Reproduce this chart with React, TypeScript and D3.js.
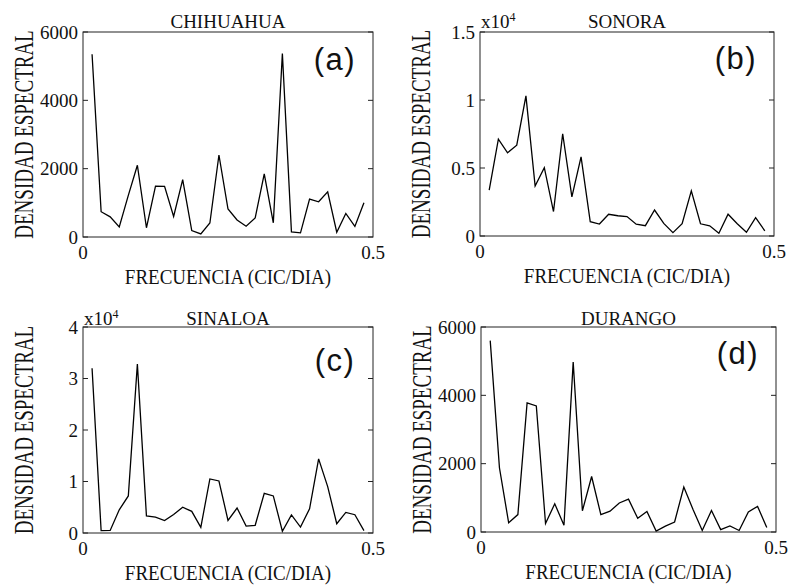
import React from "react";
import * as d3 from "d3";

// ---------- data ----------
const harmonics = d3.range(1, 32); // spectral estimates k = 1..31 of a 64-day record
const recordLength = 64;

const chihuahua = [5350, 740, 590, 295, 1220, 2100, 270, 1490, 1480, 600, 1680, 190, 90, 410, 2400, 820, 500, 315, 560, 1850, 415, 5370, 150, 120, 1110, 1030, 1320, 140, 690, 310, 1005];
const sonora = [0.338, 0.712, 0.612, 0.668, 1.03, 0.368, 0.503, 0.18, 0.752, 0.287, 0.582, 0.105, 0.088, 0.16, 0.149, 0.143, 0.087, 0.076, 0.191, 0.093, 0.025, 0.09, 0.332, 0.09, 0.075, 0.02, 0.16, 0.09, 0.027, 0.135, 0.038];
const sinaloa = [3.2, 0.045, 0.05, 0.45, 0.72, 3.28, 0.33, 0.31, 0.24, 0.36, 0.5, 0.42, 0.11, 1.05, 1.01, 0.245, 0.485, 0.135, 0.15, 0.77, 0.72, 0.035, 0.35, 0.115, 0.47, 1.44, 0.9, 0.18, 0.4, 0.355, 0.045];
const durango = [5600, 1880, 270, 510, 3780, 3690, 250, 825, 200, 4976, 620, 1625, 510, 610, 850, 960, 400, 600, 25, 170, 293, 1317, 660, 45, 630, 70, 180, 45, 590, 750, 130];

const titles = ["CHIHUAHUA", "SONORA", "SINALOA", "DURANGO"];
const tags = ["(a)", "(b)", "(c)", "(d)"];
const yMaxes = [6000, 1.5, 4, 6000];
const yTicksA = [0, 2000, 4000, 6000];
const yTicksB = [0, 0.5, 1, 1.5];
const yTicksC = [0, 1, 2, 3, 4];
const yTicksD = [0, 2000, 4000, 6000];
const yTickLabelsA = ["0", "2000", "4000", "6000"];
const yTickLabelsB = ["0", "0.5", "1", "1.5"];
const yTickLabelsC = ["0", "1", "2", "3", "4"];
const yTickLabelsD = ["0", "2000", "4000", "6000"];
const exponentFlags = [false, true, true, false];
const xDomain = [0, 0.5];
const xTickLabels = ["0", "0.5"];
const xLabel = "FRECUENCIA (CIC/DIA)";
const yLabel = "DENSIDAD ESPECTRAL";

// ---------- layout ----------
const boxes = [
  { x: 83, y: 32, w: 290, h: 205, titleDy: -4, tagDy: 38 },
  { x: 480, y: 32, w: 294, h: 204, titleDy: -4, tagDy: 37 },
  { x: 83, y: 327, w: 290, h: 206, titleDy: -2, tagDy: 44 },
  { x: 481, y: 327, w: 295, h: 205, titleDy: -2, tagDy: 37 },
];

const SERIF = "'Liberation Serif', 'DejaVu Serif', serif";
const SANS = "'Liberation Sans', Arial, sans-serif";
const INK = "#111";
const TXT = { fontFamily: SERIF, fill: INK };

function Panel({ i }: { i: number }) {
  const b = boxes[i];
  const series = [chihuahua, sonora, sinaloa, durango][i];
  const ticks = [yTicksA, yTicksB, yTicksC, yTicksD][i];
  const tickLabels = [yTickLabelsA, yTickLabelsB, yTickLabelsC, yTickLabelsD][i];
  const x = d3.scaleLinear().domain(xDomain).range([b.x, b.x + b.w]);
  const y = d3.scaleLinear().domain([0, yMaxes[i]]).range([b.y + b.h, b.y]);
  const pts = series.map((v, j) => [harmonics[j] / recordLength, v] as [number, number]);
  const line = d3
    .line<[number, number]>()
    .x((d) => x(d[0]))
    .y((d) => y(d[1]));
  const cx = b.x + b.w / 2;
  const cy = b.y + b.h / 2;
  return (
    <g>
      <rect x={b.x} y={b.y} width={b.w} height={b.h} fill="none" stroke="#222" strokeWidth={1} />
      {ticks.map((t, j) => (
        <g key={j}>
          <line x1={b.x} x2={b.x + 5} y1={y(t)} y2={y(t)} stroke="#222" strokeWidth={1} />
          <line x1={b.x + b.w} x2={b.x + b.w - 5} y1={y(t)} y2={y(t)} stroke="#222" strokeWidth={1} />
          <text x={b.x - 5} y={y(t)} dy="0.35em" textAnchor="end" fontSize={19} {...TXT}>
            {tickLabels[j]}
          </text>
        </g>
      ))}
      {xDomain.map((t, j) => (
        <text key={j} x={x(t)} y={b.y + b.h + 22} textAnchor="middle" fontSize={19} {...TXT}>
          {xTickLabels[j]}
        </text>
      ))}
      <path d={line(pts) || ""} fill="none" stroke="#000" strokeWidth={1.3} strokeLinejoin="miter" />
      <text x={cx} y={b.y + b.titleDy} textAnchor="middle" fontSize={19} {...TXT}>
        {titles[i]}
      </text>
      {exponentFlags[i] && (
        <text x={b.x + 1} y={b.y + b.titleDy} fontSize={19} {...TXT}>
          x10
          <tspan dy={-7} fontSize={12}>4</tspan>
        </text>
      )}
      <text x={b.x + b.w - 38} y={b.y + b.tagDy} textAnchor="middle" fontFamily={SANS} fontSize={31} letterSpacing={1.5} fill={INK}>
        {tags[i]}
      </text>
      <text
        transform={`translate(${cx},${b.y + b.h + 47}) scale(1,1.15)`}
        textAnchor="middle"
        fontSize={19}
        {...TXT}
      >
        {xLabel}
      </text>
      <text
        transform={`translate(${b.x - 50},${cy}) rotate(-90) scale(1,1.4)`}
        textAnchor="middle"
        fontSize={19}
        {...TXT}
      >
        {yLabel}
      </text>
    </g>
  );
}

export default function App() {
  return (
    <svg
      width={788}
      height={586}
      style={{ position: "absolute", left: 0, top: 0, background: "#fff" }}
    >
      <rect width={788} height={586} fill="#fff" />
      {[0, 1, 2, 3].map((i) => (
        <Panel key={i} i={i} />
      ))}
    </svg>
  );
}
